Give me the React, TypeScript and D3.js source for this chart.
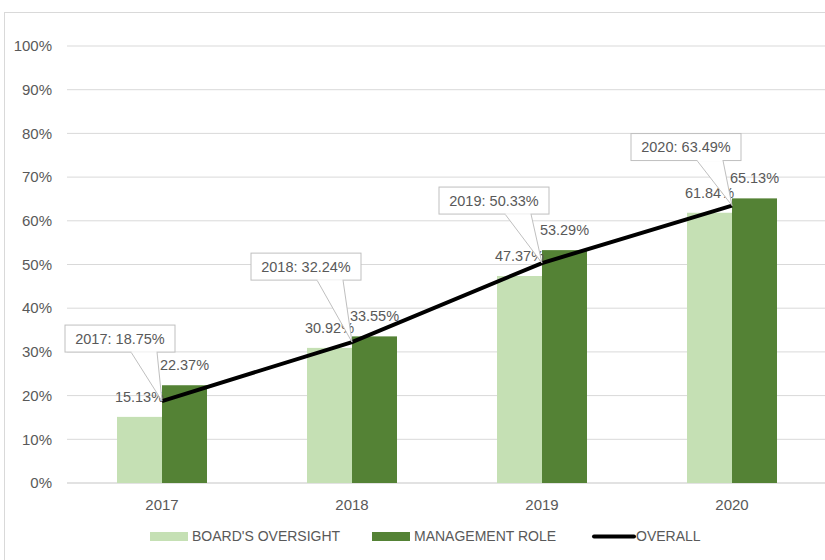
import React from 'react';
import * as d3 from 'd3';

const years = ['2017', '2018', '2019', '2020'];
const boardOversight = [15.13, 30.92, 47.37, 61.84];
const managementRole = [22.37, 33.55, 53.29, 65.13];
const overall = [18.75, 32.24, 50.33, 63.49];
const yTicks = [0, 10, 20, 30, 40, 50, 60, 70, 80, 90, 100];

// callout box placement relative to its point (left edge, bottom edge)
const calloutOffsets = [
  { dx: -97, dy: -49 },
  { dx: -101, dy: -62 },
  { dx: -103, dy: -49 },
  { dx: -101, dy: -45 },
];

const LIGHT = '#c5e0b4';
const DARK = '#548235';
const TEXT = '#595959';
const GRID = '#d9d9d9';
const FONT = '"Liberation Sans", Arial, sans-serif';

export default function App() {
  const width = 825;
  const height = 560;

  const x = d3.scaleBand<string>()
    .domain(years)
    .range([67, 827])
    .paddingInner(100 / 190)
    .paddingOuter(50 / 190);

  const sub = d3.scaleBand<string>()
    .domain(['board', 'mgmt'])
    .range([0, x.bandwidth()]);

  const y = d3.scaleLinear().domain([0, 100]).range([483, 46]);

  const cx = (i: number) => (x(years[i]) as number) + x.bandwidth() / 2;

  const line = d3.line<number>()
    .x((_, i) => cx(i))
    .y(d => y(d));

  const series = [
    { key: 'board', values: boardOversight, color: LIGHT },
    { key: 'mgmt', values: managementRole, color: DARK },
  ];

  const boxW = 110;
  const boxH = 27;

  return (
    <svg width={width} height={height} style={{ position: 'absolute', left: 0, top: 0 }}
      fontFamily={FONT}>
      <rect x={0} y={0} width={width} height={height} fill="#fff" />
      <rect x={4.5} y={12.5} width={width + 10} height={height + 10} fill="none" stroke={GRID} />

      {/* gridlines and y axis */}
      {yTicks.map(t => (
        <g key={t}>
          <line x1={67} x2={827} y1={y(t)} y2={y(t)} stroke={GRID} strokeWidth={t === 0 ? 1.5 : 1} />
          <text x={52} y={y(t)} dy="0.35em" textAnchor="end" fontSize={15} fill={TEXT}>{t}%</text>
        </g>
      ))}

      {/* bars */}
      {series.map(s => (
        <g key={s.key}>
          {s.values.map((v, i) => (
            <rect key={i}
              x={(x(years[i]) as number) + (sub(s.key) as number)}
              y={y(v)}
              width={sub.bandwidth()}
              height={y(0) - y(v)}
              fill={s.color} />
          ))}
        </g>
      ))}

      {/* x axis labels */}
      {years.map((yr, i) => (
        <text key={yr} x={cx(i)} y={505} dy="0.35em" textAnchor="middle" fontSize={15} fill={TEXT}>{yr}</text>
      ))}

      {/* bar labels */}
      {series.map(s => (
        <g key={s.key + '-lbl'}>
          {s.values.map((v, i) => (
            <text key={i}
              x={(x(years[i]) as number) + (sub(s.key) as number) + sub.bandwidth() / 2}
              y={y(v) - 20}
              dy="0.35em"
              textAnchor="middle"
              fontSize={14.5}
              fill={TEXT}>{v.toFixed(2)}%</text>
          ))}
        </g>
      ))}

      {/* overall line */}
      <path d={line(overall) as string} fill="none" stroke="#000" strokeWidth={4} />

      {/* callouts */}
      {overall.map((v, i) => {
        const px = cx(i);
        const py = y(v);
        const bx = px + calloutOffsets[i].dx;
        const by = py + calloutOffsets[i].dy;
        return (
          <g key={'c' + i}>
            <path d={`M${bx + 66},${by} L${px},${py} L${bx + 92},${by}`} fill="#fff" stroke="#bfbfbf" strokeWidth={1} />
            <rect x={bx} y={by - boxH} width={boxW} height={boxH} fill="#fff" stroke="#bfbfbf" strokeWidth={1} />
            <line x1={bx + 66.5} x2={bx + 91.5} y1={by} y2={by} stroke="#fff" strokeWidth={1.5} />
            <text x={bx + boxW / 2} y={by - boxH / 2} dy="0.35em" textAnchor="middle" fontSize={14.5} fill={TEXT}>
              {years[i]}: {v.toFixed(2)}%
            </text>
          </g>
        );
      })}

      {/* legend */}
      <g fontSize={14} fill={TEXT}>
        <rect x={150} y={532} width={38} height={9} fill={LIGHT} />
        <text x={192} y={536.5} dy="0.35em">BOARD'S OVERSIGHT</text>
        <rect x={372} y={532} width={38} height={9} fill={DARK} />
        <text x={414} y={536.5} dy="0.35em">MANAGEMENT ROLE</text>
        <line x1={594} x2={634} y1={536.5} y2={536.5} stroke="#000" strokeWidth={4} strokeLinecap="round" />
        <text x={636} y={536.5} dy="0.35em">OVERALL</text>
      </g>
    </svg>
  );
}
